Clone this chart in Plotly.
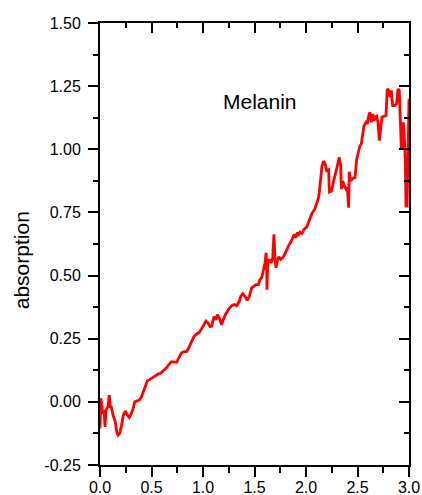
import plotly.graph_objects as go

# Melanin absorption curve
x_vals = [
    0.000, 0.010, 0.026, 0.039, 0.049, 0.058, 0.078, 0.090, 0.100, 0.110,
    0.126, 0.136, 0.149, 0.162, 0.175, 0.191, 0.207, 0.227, 0.246, 0.265,
    0.285, 0.304, 0.323, 0.337, 0.356, 0.382, 0.401, 0.421, 0.440, 0.460,
    0.485, 0.511, 0.537, 0.563, 0.589, 0.615, 0.641, 0.667, 0.693, 0.718,
    0.744, 0.764, 0.790, 0.816, 0.841, 0.861, 0.887, 0.913, 0.939, 0.964,
    0.984, 1.003, 1.029, 1.049, 1.068, 1.084, 1.107, 1.126, 1.139, 1.159,
    1.181, 1.197, 1.217, 1.246, 1.278, 1.304, 1.327, 1.353, 1.366, 1.385,
    1.408, 1.430, 1.450, 1.473, 1.489, 1.515, 1.537, 1.553, 1.570, 1.586,
    1.602, 1.612, 1.618, 1.621, 1.628, 1.644, 1.660, 1.676, 1.689, 1.699,
    1.709, 1.721, 1.735, 1.754, 1.773, 1.793, 1.812, 1.832, 1.851, 1.871,
    1.887, 1.900, 1.916, 1.929, 1.942, 1.961, 1.981, 2.007, 2.032, 2.058,
    2.084, 2.104, 2.120, 2.129, 2.143, 2.155, 2.172, 2.187, 2.201, 2.220,
    2.226, 2.246, 2.265, 2.284, 2.304, 2.323, 2.337, 2.343, 2.356, 2.372,
    2.388, 2.401, 2.414, 2.420, 2.434, 2.453, 2.476, 2.492, 2.508, 2.524,
    2.537, 2.550, 2.563, 2.583, 2.595, 2.609, 2.621, 2.634, 2.648, 2.660,
    2.673, 2.686, 2.699, 2.712, 2.725, 2.738, 2.757, 2.777, 2.789, 2.803,
    2.816, 2.828, 2.841, 2.861, 2.880, 2.893, 2.906, 2.919, 2.925, 2.939,
    2.945, 2.959, 2.964, 2.971, 2.981, 2.990, 3.000,
]
absorption = [
    -0.105, 0.014, -0.046, -0.033, -0.099, -0.033, -0.019, 0.027, -0.019, -0.020,
    -0.052, -0.066, -0.079, -0.119, -0.132, -0.125, -0.099, -0.052, -0.037, -0.052,
    -0.062, -0.046, -0.026, 0.000, 0.004, 0.007, 0.018, 0.040, 0.067, 0.083,
    0.089, 0.096, 0.103, 0.110, 0.113, 0.122, 0.133, 0.146, 0.159, 0.157,
    0.157, 0.173, 0.193, 0.199, 0.199, 0.213, 0.239, 0.259, 0.269, 0.275,
    0.288, 0.301, 0.320, 0.312, 0.298, 0.299, 0.338, 0.325, 0.345, 0.332,
    0.305, 0.325, 0.345, 0.365, 0.381, 0.385, 0.381, 0.398, 0.418, 0.428,
    0.418, 0.402, 0.418, 0.451, 0.457, 0.464, 0.464, 0.484, 0.491, 0.524,
    0.550, 0.590, 0.550, 0.444, 0.550, 0.564, 0.550, 0.566, 0.663, 0.564,
    0.531, 0.557, 0.574, 0.564, 0.570, 0.583, 0.603, 0.619, 0.632, 0.646,
    0.663, 0.650, 0.670, 0.663, 0.672, 0.667, 0.683, 0.692, 0.723, 0.746,
    0.762, 0.782, 0.805, 0.829, 0.882, 0.934, 0.953, 0.941, 0.915, 0.919,
    0.831, 0.835, 0.868, 0.895, 0.934, 0.968, 0.934, 0.842, 0.875, 0.855,
    0.842, 0.849, 0.769, 0.911, 0.875, 0.884, 0.888, 0.961, 0.988, 1.014,
    1.021, 1.060, 1.093, 1.107, 1.100, 1.133, 1.147, 1.107, 1.140, 1.113,
    1.127, 1.131, 1.107, 1.034, 1.093, 1.127, 1.131, 1.133, 1.239, 1.233,
    1.206, 1.233, 1.173, 1.173, 1.180, 1.239, 1.233, 1.120, 1.008, 1.001,
    1.107, 1.014, 0.961, 0.775, 0.775, 0.961, 1.200,
]

x_ticks = [0.0, 0.5, 1.0, 1.5, 2.0, 2.5, 3.0]
x_tick_text = ["0.0", "0.5", "1.0", "1.5", "2.0", "2.5", "3.0"]
y_ticks = [-0.25, 0.0, 0.25, 0.5, 0.75, 1.0, 1.25, 1.5]
y_tick_text = ["-0.25", "0.00", "0.25", "0.50", "0.75", "1.00", "1.25", "1.50"]

X_RANGE = [0, 3]
Y_RANGE = [-0.25, 1.5]
FONT = "Liberation Sans, Arial, sans-serif"

fig = go.Figure()
fig.add_trace(go.Scatter(
    x=x_vals, y=absorption, mode="lines",
    line=dict(color="#ff0000", width=2.8),
    showlegend=False, hoverinfo="skip",
))
# invisible trace to anchor the mirrored top/right frame axes
fig.add_trace(go.Scatter(
    x=[X_RANGE[0]], y=[Y_RANGE[0]], xaxis="x2", yaxis="y2",
    mode="markers", marker=dict(opacity=0), showlegend=False, hoverinfo="skip",
))

axis_common = dict(
    showgrid=False, zeroline=False, showline=True, automargin=False,
    linecolor="black", linewidth=2, tickcolor="black", tickwidth=2,
    ticklen=10,
)

fig.update_layout(
    width=422, height=495,
    margin=dict(l=100, r=13, t=23, b=30, autoexpand=False),
    paper_bgcolor="white", plot_bgcolor="white",
    font=dict(family=FONT, size=16, color="black"),
    xaxis=dict(
        range=X_RANGE, tickvals=x_ticks, ticktext=x_tick_text,
        ticks="outside", ticklabelstandoff=-3,
        minor=dict(dtick=0.25, tick0=0, ticks="outside", ticklen=6,
                   tickwidth=2, tickcolor="black"),
        **axis_common,
    ),
    yaxis=dict(
        range=Y_RANGE, tickvals=y_ticks, ticktext=y_tick_text,
        ticks="outside", ticklabelstandoff=4,
        minor=dict(dtick=0.125, tick0=0, ticks="outside", ticklen=5,
                   tickwidth=2, tickcolor="black"),
        **axis_common,
    ),
    xaxis2=dict(
        range=X_RANGE, overlaying="x", side="top", anchor="y2",
        tickvals=x_ticks, showticklabels=False, ticks="inside",
        minor=dict(dtick=0.25, tick0=0, ticks="inside", ticklen=5,
                   tickwidth=2, tickcolor="black"),
        **axis_common,
    ),
    yaxis2=dict(
        range=Y_RANGE, overlaying="y", side="right", anchor="x2",
        tickvals=y_ticks, showticklabels=False, ticks="inside",
        minor=dict(dtick=0.125, tick0=0, ticks="inside", ticklen=5,
                   tickwidth=2, tickcolor="black"),
        **axis_common,
    ),
    annotations=[
        dict(text="Melanin", x=1.55, y=1.19, xref="x", yref="y",
             showarrow=False, font=dict(family=FONT, size=21)),
        dict(text="absorption", x=-0.253, y=0.56, xref="paper", yref="y",
             xanchor="center", yanchor="middle",
             textangle=-90, showarrow=False, font=dict(family=FONT, size=21)),
    ],
)

fig.write_html("out.html")
